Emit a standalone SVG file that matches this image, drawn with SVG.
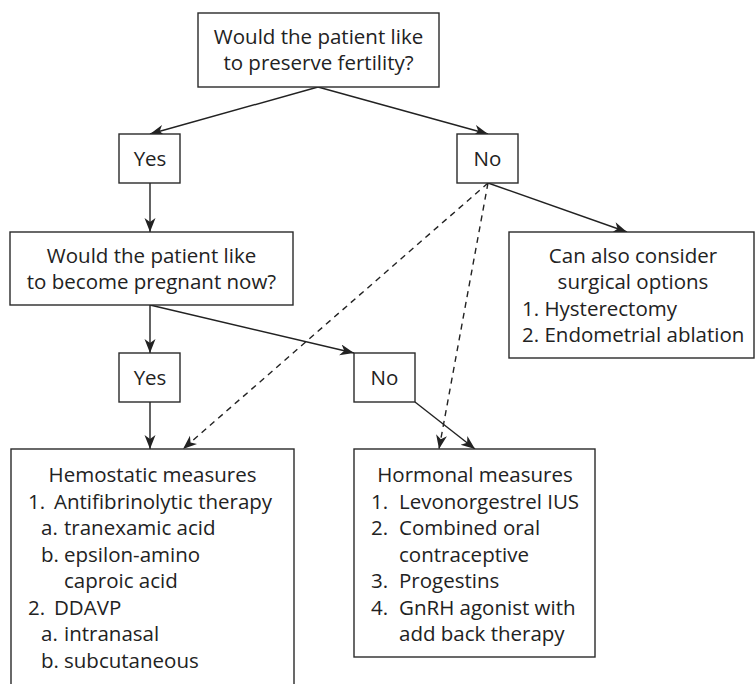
<svg xmlns="http://www.w3.org/2000/svg" width="755" height="684" viewBox="0 0 755 684">
  <style>
    .box { fill: #ffffff; stroke: #2a2a2a; stroke-width: 1.4; }
    .t { font-family: "Open Sans", "Noto Sans", "DejaVu Sans", sans-serif; font-size: 20.5px; fill: #222222; }
    .c { text-anchor: middle; }
    .link { fill: none; stroke: #222222; stroke-width: 1.4; }
    .dash { stroke-dasharray: 6 5; }
  </style>
  <defs>
    <marker id="arrow" markerUnits="userSpaceOnUse" markerWidth="15" markerHeight="12" refX="14" refY="5.5" orient="auto">
      <path d="M0,0 L14,5.5 L0,11 L4,5.5 Z" fill="#222222"/>
    </marker>
  </defs>
  <rect width="755" height="684" fill="#ffffff"/>

  <!-- connectors: solid for the main decision path, dashed for the alternatives from "No" -->
  <g id="connectors">
    <line class="link" x1="318" y1="87" x2="150" y2="134" marker-end="url(#arrow)"/>
    <line class="link" x1="318" y1="87" x2="488" y2="134" marker-end="url(#arrow)"/>
    <line class="link" x1="150" y1="183" x2="150" y2="232" marker-end="url(#arrow)"/>
    <line class="link" x1="488" y1="183" x2="627" y2="232" marker-end="url(#arrow)"/>
    <line class="link" x1="150" y1="305" x2="150" y2="353" marker-end="url(#arrow)"/>
    <line class="link" x1="150" y1="305" x2="354" y2="353" marker-end="url(#arrow)"/>
    <line class="link" x1="150" y1="402" x2="150" y2="449" marker-end="url(#arrow)"/>
    <line class="link" x1="415" y1="402" x2="475" y2="449" marker-end="url(#arrow)"/>
    <line class="link dash" x1="488" y1="183" x2="183" y2="449" marker-end="url(#arrow)"/>
    <line class="link dash" x1="488" y1="183" x2="439" y2="449" marker-end="url(#arrow)"/>
  </g>

  <g id="q-fertility">
    <rect class="box" x="198" y="13" width="241" height="74"/>
    <text class="t c" x="318.5" y="44">Would the patient like</text>
    <text class="t c" x="318.5" y="70">to preserve fertility?</text>
  </g>

  <g id="yes-fertility">
    <rect class="box" x="119" y="134" width="61" height="49"/>
    <text class="t c" x="150" y="166">Yes</text>
  </g>

  <g id="no-fertility">
    <rect class="box" x="457" y="134" width="61" height="49"/>
    <text class="t c" x="487.5" y="166">No</text>
  </g>

  <g id="q-pregnant">
    <rect class="box" x="10" y="232" width="283" height="73"/>
    <text class="t c" x="151.5" y="263">Would the patient like</text>
    <text class="t c" x="151.5" y="289">to become pregnant now?</text>
  </g>

  <g id="surgical">
    <rect class="box" x="509" y="232" width="245" height="126"/>
    <text class="t c" x="633" y="263">Can also consider</text>
    <text class="t c" x="633" y="289">surgical options</text>
    <text class="t" x="522" y="316">1. Hysterectomy</text>
    <text class="t" x="522" y="342">2. Endometrial ablation</text>
  </g>

  <g id="yes-pregnant">
    <rect class="box" x="119" y="353" width="61" height="49"/>
    <text class="t c" x="150" y="385">Yes</text>
  </g>

  <g id="no-pregnant">
    <rect class="box" x="354" y="353" width="61" height="49"/>
    <text class="t c" x="384.5" y="385">No</text>
  </g>

  <g id="hemostatic">
    <rect class="box" x="11" y="449" width="283" height="250"/>
    <text class="t c" x="152.5" y="482">Hemostatic measures</text>
    <text class="t" x="28" y="508.5">1.</text>
    <text class="t" x="54" y="508.5">Antifibrinolytic therapy</text>
    <text class="t" x="41" y="535">a.</text>
    <text class="t" x="64" y="535">tranexamic acid</text>
    <text class="t" x="41" y="561.5">b.</text>
    <text class="t" x="64" y="561.5">epsilon-amino</text>
    <text class="t" x="64" y="588">caproic acid</text>
    <text class="t" x="28" y="614.5">2.</text>
    <text class="t" x="54" y="614.5">DDAVP</text>
    <text class="t" x="41" y="641">a.</text>
    <text class="t" x="64" y="641">intranasal</text>
    <text class="t" x="41" y="667.5">b.</text>
    <text class="t" x="64" y="667.5">subcutaneous</text>
  </g>

  <g id="hormonal">
    <rect class="box" x="354" y="449" width="241" height="208"/>
    <text class="t c" x="475" y="482">Hormonal measures</text>
    <text class="t" x="371" y="508.5">1.</text>
    <text class="t" x="399" y="508.5">Levonorgestrel IUS</text>
    <text class="t" x="371" y="535">2.</text>
    <text class="t" x="399" y="535">Combined oral</text>
    <text class="t" x="399" y="561.5">contraceptive</text>
    <text class="t" x="371" y="588">3.</text>
    <text class="t" x="399" y="588">Progestins</text>
    <text class="t" x="371" y="614.5">4.</text>
    <text class="t" x="399" y="614.5">GnRH agonist with</text>
    <text class="t" x="399" y="641">add back therapy</text>
  </g>
</svg>
